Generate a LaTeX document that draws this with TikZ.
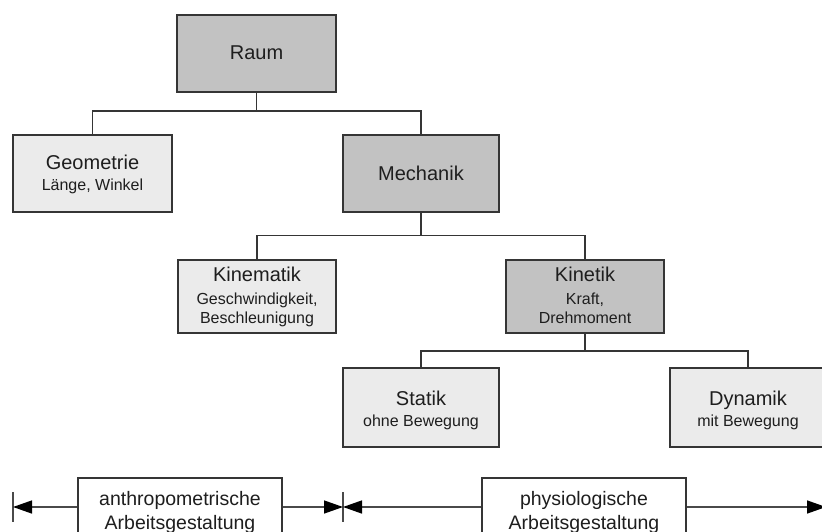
\documentclass[tikz,border=0pt]{standalone}
\usepackage{fontspec}
\setmainfont{Liberation Sans}
\usetikzlibrary{arrows.meta}
\definecolor{darkfill}{HTML}{C2C2C2}
\definecolor{lightfill}{HTML}{EBEBEB}
\definecolor{edgecol}{HTML}{353535}
\definecolor{txtcol}{HTML}{1E1E1E}
\definecolor{bandcol}{HTML}{4A4A4A}
\begin{document}
\begin{tikzpicture}[x=1pt,y=-1pt,
  box/.style={draw=edgecol, line width=1.8pt, rectangle, inner sep=0pt},
  darkbox/.style={box, fill=darkfill},
  lightbox/.style={box, fill=lightfill},
  title/.style={text=txtcol, font=\fontsize{20}{24}\selectfont, inner sep=0pt, anchor=base},
  subt/.style={text=txtcol, font=\fontsize{16}{18}\selectfont, inner sep=0pt, anchor=base},
  conn/.style={draw=edgecol, line width=1.8pt},
  band/.style={draw=bandcol, line width=1.4pt},
  bandbox/.style={draw=edgecol, line width=1.4pt, fill=white, rectangle,
    minimum width=204pt, minimum height=58pt, inner sep=0pt},
  bandtxt/.style={text=txtcol, font=\fontsize{19.5}{24}\selectfont, inner sep=0pt, anchor=base},
  tipend/.style={-{Triangle[length=19pt,width=13pt,color=black]}}
]
\useasboundingbox (0,0) rectangle (822,532);
\clip (0,0) rectangle (822,532);

% boxes
\node[darkbox, minimum width=159pt, minimum height=77pt] (raum) at (256.5,53.5) {};
\node[lightbox, minimum width=159pt, minimum height=77pt] (geo) at (92.5,173.5) {};
\node[darkbox, minimum width=156pt, minimum height=77pt] (mech) at (421,173.5) {};
\node[lightbox, minimum width=158pt, minimum height=73pt] (kinem) at (257,296.5) {};
\node[darkbox, minimum width=158pt, minimum height=73pt] (kinet) at (585,296.5) {};
\node[lightbox, minimum width=156pt, minimum height=79pt] (stat) at (421,407.5) {};
\node[lightbox, minimum width=156pt, minimum height=79pt] (dyn) at (748,407.5) {};

% texts
\node[title] (raumT) at (256.5,60) {Raum};
\node[title] (geoT) at (92.5,169) {Geometrie};
\node[subt] (geoS) at (92.5,190) {Länge, Winkel};
\node[title] (mechT) at (421,180.5) {Mechanik};
\node[title] (kinemT) at (257,281.5) {Kinematik};
\node[subt] (kinemS1) at (257,304) {Geschwindigkeit,};
\node[subt] (kinemS2) at (257,323.5) {Beschleunigung};
\node[title] (kinetT) at (585,281.5) {Kinetik};
\node[subt] (kinetS1) at (585,304) {Kraft,};
\node[subt] (kinetS2) at (585,323.5) {Drehmoment};
\node[title] (statT) at (421,405) {Statik};
\node[subt] (statS) at (421,426.5) {ohne Bewegung};
\node[title] (dynT) at (748,405) {Dynamik};
\node[subt] (dynS) at (748,426.5) {mit Bewegung};

% tree connectors
\coordinate (j1) at (256.5,111);
\coordinate (j2) at (421,235.5);
\coordinate (j3) at (585,351);
\draw[conn] (raum.south) -- (j1);
\draw[conn] (geo.north) |- (j1) -| (mech.north);
\draw[conn] (mech.south) -- (j2);
\draw[conn] (kinem.north) |- (j2) -| (kinet.north);
\draw[conn] (kinet.south) -- (j3);
\draw[conn] (stat.north) |- (j3) -| (dyn.north);

% bottom band
\coordinate (barL) at (13,507);
\coordinate (barM) at (343,507);
\coordinate (endR) at (826,507);
\node[bandbox] (anth) at (180,507) {};
\node[bandbox] (phys) at (584,507) {};
\node[bandtxt] (anthT1) at (180,505.5) {anthropometrische};
\node[bandtxt] (anthT2) at (180,529.5) {Arbeitsgestaltung};
\node[bandtxt] (physT1) at (584,505.5) {physiologische};
\node[bandtxt] (physT2) at (584,529.5) {Arbeitsgestaltung};
\draw[band] ([yshift=15pt]barL) -- ([yshift=-15pt]barL);
\draw[band] ([yshift=15pt]barM) -- ([yshift=-15pt]barM);
\draw[band, tipend] (anth.west) -- (barL);
\draw[band, tipend] (anth.east) -- (barM);
\draw[band, tipend] (phys.west) -- (barM);
\draw[band, tipend] (phys.east) -- (endR);
\end{tikzpicture}
\end{document}
